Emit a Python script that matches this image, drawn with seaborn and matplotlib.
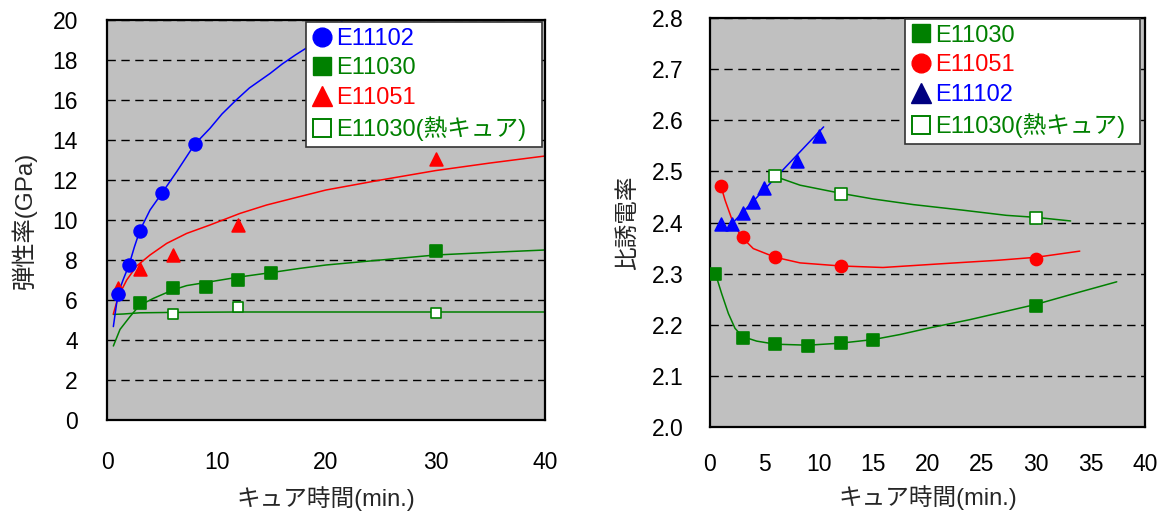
import numpy as np
import pandas as pd
import seaborn as sns
import matplotlib
matplotlib.use("Agg")
import matplotlib.pyplot as plt
from matplotlib.lines import Line2D
from matplotlib.ticker import MultipleLocator, FormatStrFormatter

# ---- left chart: elastic modulus vs cure time ----
t_e11102_l = [1, 2, 3, 5, 8]
e_e11102 = [6.3, 7.73, 9.47, 11.33, 13.78]
t_e11030_l = [3, 6, 9, 12, 15, 30]
e_e11030 = [5.87, 6.58, 6.63, 7.0, 7.37, 8.47]
t_e11051_l = [1, 3, 6, 12, 30]
e_e11051 = [6.6, 7.55, 8.27, 9.77, 13.03]
t_heat_l = [6, 12, 30]
e_heat = [5.28, 5.63, 5.37]

# trend curves
fit_e11102_x = [0.58, 1, 1.5, 2, 2.5, 3, 3.93, 5, 6.37, 8, 9.4, 10.5, 11.8, 13, 14.9, 16, 17.2, 18.5, 20.5, 21.6]
fit_e11102_y = [4.67, 6.3, 7.05, 7.73, 8.65, 9.47, 10.5, 11.33, 12.42, 13.78, 14.58, 15.3, 16.0, 16.6, 17.33, 17.8, 18.25, 18.7, 19.5, 20.0]
fit_e11051_x = [0.58, 1.03, 1.8, 2.71, 3.93, 5.45, 7.28, 9.4, 12.15, 14.58, 17.6, 20, 25, 30, 35, 40]
fit_e11051_y = [5.3, 6.17, 7.0, 7.7, 8.25, 8.83, 9.33, 9.75, 10.33, 10.75, 11.17, 11.5, 12.0, 12.47, 12.85, 13.2]
fit_e11030_x = [0.58, 1.19, 2.1, 2.95, 4.23, 6, 7.28, 8.95, 12.08, 14.98, 17.6, 20, 25, 30, 35, 40]
fit_e11030_y = [3.7, 4.53, 5.17, 5.72, 6.08, 6.5, 6.72, 6.87, 7.15, 7.37, 7.58, 7.75, 8.0, 8.25, 8.38, 8.5]
fit_heat_l_x = [0.58, 1.5, 3, 6, 12, 20, 30, 40]
fit_heat_l_y = [5.28, 5.3, 5.36, 5.38, 5.4, 5.4, 5.4, 5.4]

# ---- right chart: dielectric constant vs cure time ----
t_e11030_r = [0.5, 3, 6, 9, 12, 15, 30]
k_e11030 = [2.300, 2.175, 2.162, 2.159, 2.165, 2.171, 2.237]
t_e11051_r = [1, 3, 6, 12, 30]
k_e11051 = [2.472, 2.371, 2.332, 2.315, 2.329]
t_e11102_r = [1, 2, 3, 4, 5, 8, 10]
k_e11102 = [2.397, 2.397, 2.418, 2.441, 2.467, 2.521, 2.569]
t_heat_r = [6, 12, 30]
k_heat = [2.49, 2.455, 2.408]

fit_k11030_x = [0.5, 1.07, 1.69, 2.3, 2.98, 4.29, 6, 9, 12, 15, 17.5, 20, 23.9, 30, 34, 37.4]
fit_k11030_y = [2.300, 2.261, 2.222, 2.193, 2.177, 2.168, 2.162, 2.160, 2.164, 2.171, 2.181, 2.193, 2.210, 2.240, 2.264, 2.284]
fit_k11051_x = [1, 1.38, 2.15, 2.94, 3.98, 6, 8.28, 12, 15.9, 21.8, 26.4, 30, 34]
fit_k11051_y = [2.472, 2.444, 2.398, 2.371, 2.349, 2.332, 2.321, 2.315, 2.312, 2.32, 2.326, 2.332, 2.344]
fit_k11102_x = [1.9, 10.45]
fit_k11102_y = [2.395, 2.587]
fit_kheat_x = [5.46, 6, 8.28, 12.05, 15, 18.7, 23.3, 27.25, 30, 33.16]
fit_kheat_y = [2.497, 2.49, 2.473, 2.457, 2.446, 2.435, 2.424, 2.414, 2.41, 2.403]

BLUE = "#0000FF"
GREEN = "#008000"
RED = "#FF0000"
NAVY = "#000080"

sns.set_theme(style="white")
plt.rcParams["font.family"] = ["Liberation Sans", "Noto Sans CJK JP", "DejaVu Sans"]

FS = 16.5
fig = plt.figure(figsize=(11.6, 5.12), dpi=100)
axL = fig.add_axes([107 / 1160, 92 / 512, 438 / 1160, 400 / 512])
axR = fig.add_axes([710 / 1160, 85 / 512, 435 / 1160, 409 / 512])


def curve(ax, x, y, color):
    sns.lineplot(x=x, y=y, sort=False, estimator=None, color=color, lw=1.1, ax=ax, zorder=2)


def points(ax, x, y, marker, color, s, face=None):
    sns.scatterplot(x=x, y=y, marker=marker, s=s, color=face or color, edgecolor=color,
                    linewidth=1.2, ax=ax, zorder=3)


def style_axes(ax, xmax, xstep, ymin, ymax, ystep, fmt, ypad, xpad):
    ax.set_facecolor("#C0C0C0")
    ax.set_xlim(0, xmax)
    ax.set_ylim(ymin, ymax)
    ax.xaxis.set_major_locator(MultipleLocator(xstep))
    ax.yaxis.set_major_locator(MultipleLocator(ystep))
    ax.yaxis.set_major_formatter(FormatStrFormatter(fmt))
    for sp in ax.spines.values():
        sp.set_linewidth(1.6)
        sp.set_color("black")
    ax.tick_params(axis="both", direction="in", length=5, width=1, labelsize=FS,
                   colors="black", top=False, right=False)
    ax.tick_params(axis="x", pad=xpad)
    ax.tick_params(axis="y", pad=ypad)
    ax.grid(axis="y", color="black", ls=(0, (6, 4)), lw=1.0)
    ax.grid(axis="x", visible=False)
    ax.set_axisbelow(True)


# left chart
curve(axL, fit_e11030_x, fit_e11030_y, GREEN)
curve(axL, fit_heat_l_x, fit_heat_l_y, GREEN)
curve(axL, fit_e11051_x, fit_e11051_y, RED)
curve(axL, fit_e11102_x, fit_e11102_y, BLUE)
points(axL, t_e11030_l, e_e11030, "s", GREEN, 70)
points(axL, t_heat_l, e_heat, "s", GREEN, 60, face="white")
points(axL, t_e11051_l, e_e11051, "^", RED, 85)
points(axL, t_e11102_l, e_e11102, "o", BLUE, 85)
style_axes(axL, 40, 10, 0, 20, 2, "%d", 21, 22)
axL.set_xlabel("キュア時間(min.)", fontsize=17)
axL.set_ylabel("弾性率(GPa)", fontsize=17.5)
axL.xaxis.set_label_coords(0.5, -0.165)
axL.yaxis.set_label_coords(-0.16, 0.5)

hL = [
    Line2D([], [], ls="", marker="o", color=BLUE, markersize=13.5),
    Line2D([], [], ls="", marker="s", color=GREEN, markersize=13),
    Line2D([], [], ls="", marker="^", color=RED, markersize=14),
    Line2D([], [], ls="", marker="s", mfc="white", mec=GREEN, mew=1.4, markersize=13),
]
labL = ["E11102", "E11030", "E11051", "E11030(熱キュア)"]
colL = [BLUE, GREEN, RED, GREEN]

# right chart
curve(axR, fit_k11030_x, fit_k11030_y, GREEN)
curve(axR, fit_kheat_x, fit_kheat_y, GREEN)
curve(axR, fit_k11051_x, fit_k11051_y, RED)
curve(axR, fit_k11102_x, fit_k11102_y, BLUE)
points(axR, t_e11030_r, k_e11030, "s", GREEN, 80)
points(axR, t_e11051_r, k_e11051, "o", RED, 75)
points(axR, t_e11102_r, k_e11102, "^", BLUE, 85)
points(axR, t_heat_r, k_heat, "s", GREEN, 75, face="white")
style_axes(axR, 40, 5, 2.0, 2.8, 0.1, "%.1f", 19, 19)
axR.set_xlabel("キュア時間(min.)", fontsize=17)
axR.set_ylabel("比誘電率", fontsize=17)
axR.xaxis.set_label_coords(0.5, -0.142)
axR.yaxis.set_label_coords(-0.163, 0.5)

hR = [
    Line2D([], [], ls="", marker="s", color=GREEN, markersize=13),
    Line2D([], [], ls="", marker="o", color=RED, markersize=13.5),
    Line2D([], [], ls="", marker="^", color=NAVY, markersize=14),
    Line2D([], [], ls="", marker="s", mfc="white", mec=GREEN, mew=1.4, markersize=13),
]
labR = ["E11030", "E11051", "E11102", "E11030(熱キュア)"]
colR = [GREEN, RED, BLUE, GREEN]

for ax, h, lab, col, box in [(axL, hL, labL, colL, (0.454, 0.995, 0.539, 0.0)),
                             (axR, hR, labR, colR, (0.448, 0.998, 0.540, 0.0))]:
    leg = ax.legend(h, lab, loc="upper left", bbox_to_anchor=box, mode="expand",
                    fontsize=17, frameon=True, fancybox=False, framealpha=1,
                    edgecolor="#333333", handlelength=0.9, handletextpad=0.15,
                    borderpad=0.25, labelspacing=0.32, borderaxespad=0.0)
    leg.get_frame().set_linewidth(1.2)
    leg.set_zorder(10)
    for txt, c in zip(leg.get_texts(), col):
        txt.set_color(c)

fig.savefig("out.png", dpi=100)
